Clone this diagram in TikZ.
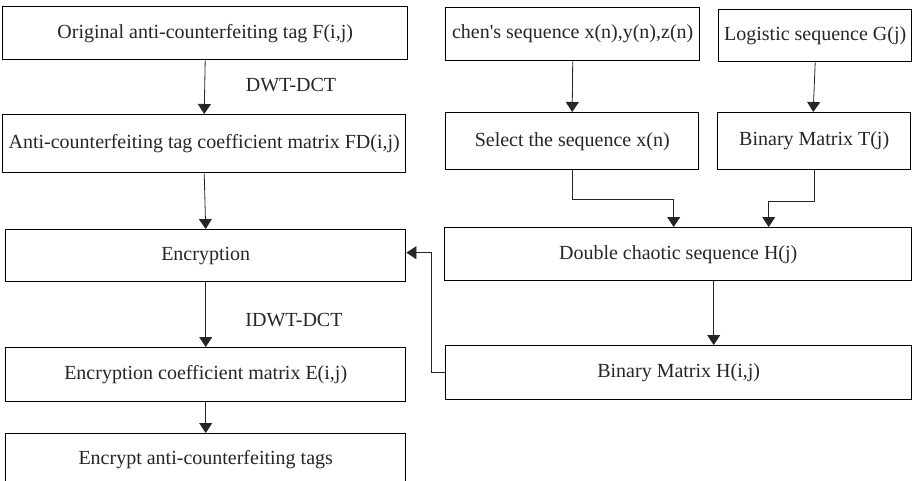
\documentclass[tikz,border=0pt]{standalone}
\usepackage{fontspec}
\setmainfont{Liberation Serif}[Ligatures=TeXOff]
\usetikzlibrary{arrows.meta,calc}
\begin{document}
\begin{tikzpicture}[x=1pt,y=-1pt,
  box/.style={draw=black,line width=1.4pt,inner sep=0pt,anchor=north west,
    font=\fontsize{20}{24}\selectfont,text=black!85},
  arr/.style={draw=black!85,line width=0.8pt,-{Triangle[length=10pt,width=13pt]}},
  lbl/.style={font=\fontsize{20}{24}\selectfont,text=black!85}]
\clip (0,0) rectangle (912,481);
\fill[white] (0,0) rectangle (912,481);
% left column
\node[box,minimum width=405pt,minimum height=53pt] (O) at (2,6) {Original anti-counterfeiting tag F(i,j)};
\node[box,minimum width=403pt,minimum height=58pt] (FD) at (2,114) {Anti-counterfeiting tag coefficient matrix FD(i,j)};
\node[box,minimum width=400pt,minimum height=52pt] (Enc) at (5,229) {Encryption};
\node[box,minimum width=400pt,minimum height=54pt] (E) at (5,347) {Encryption coefficient matrix E(i,j)};
\node[box,minimum width=400pt,minimum height=52pt] (T) at (5,433) {Encrypt anti-counterfeiting tags};
% right column
\node[box,minimum width=254pt,minimum height=53pt] (Ch) at (445,7) {chen's sequence x(n),y(n),z(n)};
\node[box,minimum width=193pt,minimum height=52pt] (Lg) at (718,9) {Logistic sequence G(j)};
\node[box,minimum width=253pt,minimum height=57pt] (Sel) at (445,112) {Select the sequence x(n)};
\node[box,minimum width=193pt,minimum height=57pt] (BT) at (717,112) {Binary Matrix T(j)};
\node[box,minimum width=467pt,minimum height=53pt] (Dbl) at (444,227) {Double chaotic sequence H(j)};
\node[box,minimum width=466pt,minimum height=54pt] (BH) at (445,345) {Binary Matrix H(i,j)};
% labels
\node[lbl] (l1) at (291,85) {DWT-DCT};
\node[lbl] (l2) at (294,320) {IDWT-DCT};
% connectors
\draw[arr] (O.south) -- (FD.north);
\draw[arr] (FD.south) -- (Enc.north);
\draw[arr] (Enc.south) -- (E.north);
\draw[arr] (E.south) -- (T.north);
\draw[arr] (Ch.south) -- (Sel.north);
\draw[arr] (Lg.south) -- ([xshift=-1pt]BT.north);
\draw[arr] (Sel.south) -- ++(0,-29pt) -| ([xshift=-4.5pt]Dbl.north);
\draw[arr] (BT.south) -- ++(0,-31pt) -| ([xshift=90.5pt]Dbl.north);
\draw[arr] ([xshift=35.5pt]Dbl.south) -- ([xshift=35pt]BH.north);
\draw[arr] (BH.west) -- ++(-14pt,0) |- ([yshift=3pt]Enc.east);
\end{tikzpicture}
\end{document}
